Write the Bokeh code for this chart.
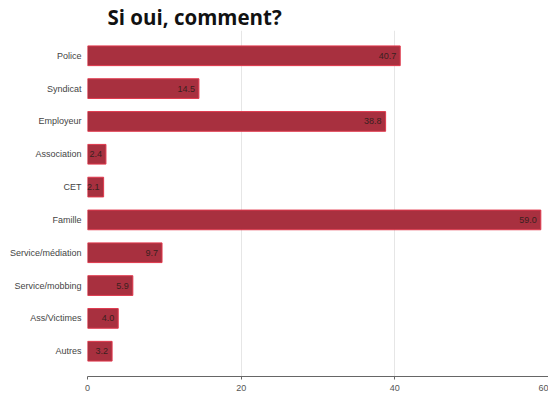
from bokeh.plotting import figure
from bokeh.models import FactorRange, Range1d, ColumnDataSource, FixedTicker, LabelSet
from bokeh.core.properties import value
from bokeh.embed import file_html
from bokeh.resources import INLINE

categories = ["Police", "Syndicat", "Employeur", "Association", "CET", "Famille",
              "Service/médiation", "Service/mobbing", "Ass/Victimes", "Autres"]
values = [40.7, 14.5, 38.8, 2.4, 2.1, 59.0, 9.7, 5.9, 4.0, 3.2]
value_labels = ["40.7", "14.5", "38.8", "2.4", "2.1", "59.0", "9.7", "5.9", "4.0", "3.2"]
x_ticks = [0, 20, 40, 60]
title_text = "Si oui, comment?"

src = ColumnDataSource(dict(cat=categories, val=values, lab=value_labels))

y_range = FactorRange(factors=list(reversed(categories)), range_padding=0.054)
p = figure(width=548, height=396, y_range=y_range, x_range=Range1d(0, 60),
           output_backend="svg", toolbar_location=None,
           min_border_left=87, min_border_right=0, min_border_top=25, min_border_bottom=20)
p.outline_line_color = None
p.background_fill_color = "white"

p.title.text = title_text
p.title.text_font = "Open Sans"
p.title.text_font_style = "bold"
p.title.text_font_size = "20.5px"
p.title.text_color = "#111111"
p.title.align = "left"
p.title.offset = 20
p.title.standoff = 0

p.hbar(y="cat", right="val", left=0, height=0.6, source=src,
       fill_color="#a8303f", line_color="#e0384c", line_width=1)

labels = LabelSet(x="val", y="cat", text="lab", source=src, x_offset=-4,
                  text_align="right", text_baseline="middle", text_font_size=value("9px"),
                  text_font=value("Liberation Sans"), text_color="#3a2020")
p.add_layout(labels)

p.xaxis.ticker = FixedTicker(ticks=x_ticks)
p.xgrid.ticker = FixedTicker(ticks=x_ticks)
p.xgrid.grid_line_color = "#e6e6e6"
p.ygrid.grid_line_color = None
p.xaxis.axis_line_color = "#666666"
p.xaxis.major_tick_line_color = "#666666"
p.xaxis.major_tick_out = 3
p.xaxis.major_tick_in = 0
p.xaxis.minor_tick_line_color = None
p.xaxis.major_label_text_font = "Liberation Sans"
p.xaxis.major_label_text_font_size = "9px"
p.xaxis.major_label_text_color = "#555555"
p.xaxis.major_label_standoff = 5

p.yaxis.axis_line_color = None
p.yaxis.major_tick_line_color = None
p.yaxis.minor_tick_line_color = None
p.yaxis.major_tick_out = 0
p.yaxis.major_tick_in = 0
p.yaxis.major_label_text_font = "Liberation Sans"
p.yaxis.major_label_text_font_size = "9px"
p.yaxis.major_label_text_color = "#444444"
p.yaxis.major_label_standoff = 6

open("out.html", "w").write(file_html(p, INLINE))
